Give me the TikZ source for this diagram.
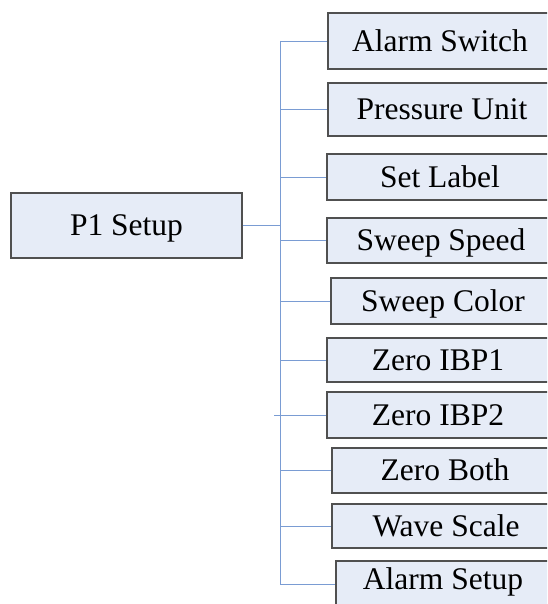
\documentclass[tikz,border=0pt]{standalone}
\usepackage{fontspec}
\setmainfont{Liberation Serif}
\definecolor{boxfill}{RGB}{230,236,247}
\definecolor{boxline}{RGB}{80,80,80}
\definecolor{connc}{RGB}{122,156,211}
\begin{document}
\begin{tikzpicture}[x=1pt,y=-1pt,
  box/.style={draw=boxline, fill=boxfill, line width=1.1pt, rectangle, inner sep=0pt,
    font=\fontsize{31.5}{36}\selectfont, text height=20.8pt, text depth=0pt},
  conn/.style={draw=connc, line width=0.9pt}]
\useasboundingbox (0,0) rectangle (547,604);
\clip (0,0) rectangle (547,604);
\fill[white] (0,0) rectangle (547,604);
% root
\node[box, minimum width=231pt, minimum height=65pt] (root) at (126.5,225.5) {P1 Setup};
% children
\node[box, minimum width=224pt, minimum height=56pt] (c1) at (440,41) {Alarm Switch};
\node[box, minimum width=228pt, minimum height=53pt] (c2) at (442,109.5) {Pressure Unit};
\node[box, minimum width=226pt, minimum height=46pt] (c3) at (440,177) {Set Label};
\node[box, minimum width=228pt, minimum height=45pt] (c4) at (441,240.5) {Sweep Speed};
\node[box, minimum width=224pt, minimum height=46pt] (c5) at (443,301) {Sweep Color};
\node[box, minimum width=222pt, minimum height=44pt] (c6) at (438,360) {Zero IBP1};
\node[box, minimum width=222pt, minimum height=46pt] (c7) at (438,415) {Zero IBP2};
\node[box, minimum width=226pt, minimum height=45pt] (c8) at (445,470.5) {Zero Both};
\node[box, minimum width=228pt, minimum height=44pt] (c9) at (446,526) {Wave Scale};
\node[box, minimum width=214pt, minimum height=60pt] (c10) at (443,591) {\raisebox{12pt}{Alarm Setup}};
% trunk
\coordinate (tx) at (280,0);
\coordinate (tsp) at (280,225.5);
\coordinate (tb) at (280,584);
\draw[conn] (c1.west -| tx) -- (tb);
\draw[conn] (root.east) -- (tsp);
\foreach \c in {c1,c2,c3,c4,c5,c6,c8,c9}{
  \draw[conn] (\c.west -| tx) -- (\c.west);
}
\draw[conn] ([xshift=-6pt]c7.west -| tx) -- (c7.west);
\draw[conn] (tb) -- (tb -| c10.west);
\end{tikzpicture}
\end{document}
